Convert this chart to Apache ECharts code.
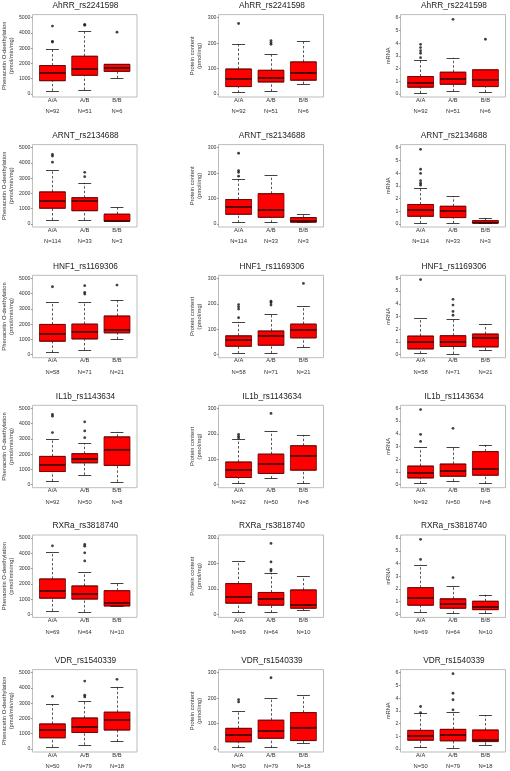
<!DOCTYPE html>
<html><head><meta charset="utf-8">
<script src="https://cdn.jsdelivr.net/npm/echarts@6/dist/echarts.min.js"></script>
<style>html,body{margin:0;padding:0;background:#fff}#c{width:510px;height:771px}</style>
</head><body><div id="c"></div>
<script>
const titles = ['AhRR_rs2241598','ARNT_rs2134688','HNF1_rs1169306','IL1b_rs1143634','RXRa_rs3818740','VDR_rs1540339'];
const genotypes = ['A/A','A/B','B/B'];
const nCounts = [[92,51,6],[114,33,3],[58,71,21],[92,50,8],[69,64,10],[50,79,18]];
const pheTicks = [0,1000,2000,3000,4000,5000];
const protTicks = [0,100,200,300];
const mrnaTicks = [0,1,2,3,4,5,6];

// [min, Q1, median, Q3, max] per genotype
const pheStats = [
  [[200,870,1380,1860,2930],[260,1220,1620,2470,4080],[1030,1480,1730,1940,1950]],
  [[260,1030,1510,2100,3520],[260,870,1500,1720,2690],[150,180,230,640,1080]],
  [[150,880,1390,1980,3410],[310,1030,1520,2000,3460],[1010,1430,1650,2530,3550]],
  [[220,860,1320,1850,2950],[640,1430,1670,2030,2690],[180,1260,2310,3130,3460]],
  [[220,1060,1550,2320,4070],[160,1000,1330,1860,2740],[530,550,770,1550,2010]],
  [[130,730,1260,1640,2920],[270,1080,1440,2030,3100],[490,1240,1900,2410,4070]]
];
const pheOutliers = [
  [[4450,3450,3400],[4560,4500],[4050]],
  [[4550,4450,4050],[3380,3100],[]],
  [[4450],[4520,4080,3970],[4560]],
  [[4600,4490,3410],[4120,3520,3080],[]],
  [[4490],[4580,4470,4030,3500],[]],
  [[3450],[4450,3520,3410],[4560]]
];
const protStats = [
  [[5,29,60,98,194],[10,47,63,93,155],[39,54,84,126,206]],
  [[5,38,68,96,177],[5,26,56,119,190],[5,7,12,25,39]],
  [[5,33,57,74,129],[5,37,74,93,159],[29,66,98,120,191]],
  [[5,28,58,89,177],[24,44,81,120,211],[5,57,114,153,194]],
  [[7,44,69,121,210],[7,36,61,86,161],[15,24,36,96,149]],
  [[5,28,54,81,147],[5,42,70,113,198],[23,33,85,143,211]]
];
const protOutliers = [
  [[277],[210,202,195],[]],
  [[278,210,203,188],[],[]],
  [[197,188,179,145],[210,204,195],[280]],
  [[198,190,183],[280],[]],
  [[],[279,206,177,170],[]],
  [[194,185],[280],[]]
];
const mrnaStats = [
  [[0.05,0.53,0.89,1.37,2.63],[0.2,0.76,1.18,1.71,2.84],[0.13,0.58,1.13,1.9,1.9]],
  [[0.05,0.6,1.08,1.53,2.84],[0.05,0.5,1.05,1.39,2.18],[0.05,0.08,0.13,0.26,0.42]],
  [[0.08,0.45,0.98,1.46,2.89],[0.05,0.64,1.01,1.49,2.81],[0.34,0.61,1.33,1.62,2.39]],
  [[0.08,0.53,0.93,1.46,2.92],[0.27,0.66,1.06,1.62,2.92],[0.08,0.74,1.22,2.6,3.1]],
  [[0.19,0.72,1.27,2.1,3.9],[0.05,0.48,0.8,1.22,2.18],[0.1,0.37,0.61,1.03,1.54]],
  [[0.1,0.69,1.03,1.46,2.79],[0.08,0.64,1.11,1.54,2.89],[0.32,0.58,0.72,1.49,2.63]]
];
const mrnaOutliers = [
  [[3.9,3.65,3.4,3.2,2.85],[5.87],[4.3]],
  [[5.87,4.3,3.97,3.4,3.2,3.05],[],[]],
  [[5.9],[4.35,3.9,3.4,3.1],[]],
  [[5.9,3.95,3.4],[4.43],[]],
  [[5.9,4.32],[2.89],[]],
  [[3.34,2.85],[5.92,4.38,3.87,3.08],[]]
];

const measures = [
  {stats: pheStats, out: pheOutliers, ticks: pheTicks, name: 'Phenacetin O-deethylation\n(pmol/min/mg)'},
  {stats: protStats, out: protOutliers, ticks: protTicks, name: 'Protein content\n(pmol/mg)'},
  {stats: mrnaStats, out: mrnaOutliers, ticks: mrnaTicks, name: 'mRNA'}
];

// layout (pixels)
const colLeft = [32, 218.5, 400.5], colW = 105;
const rowTop = [14.6, 144.6, 275.3, 405.3, 535, 669.6], rowH = 82.4;
const nameGaps = [17, 16, 8.5];
const FONT = 'Liberation Sans, Arial, sans-serif';
const XMIN = 0.38, XMAX = 3.62;
const boxPx = 0.8 * colW / (XMAX - XMIN);

const grids = [], xAxes = [], yAxes = [], series = [], graphics = [];
for (let r = 0; r < titles.length; r++) {
  for (let c = 0; c < 3; c++) {
    const idx = r * 3 + c;
    const m = measures[c];
    const stats = m.stats[r], outs = m.out[r];
    const top = m.ticks[m.ticks.length - 1];
    grids.push({left: colLeft[c], top: rowTop[r], width: colW, height: rowH,
      show: true, borderColor: '#b8bfb8', borderWidth: 1, backgroundColor: 'transparent'});
    const counts = nCounts[r];
    xAxes.push({gridIndex: idx, type: 'value', min: XMIN, max: XMAX,
      axisLine: {show: false}, axisTick: {show: false}, splitLine: {show: false},
      axisLabel: {customValues: [1, 2, 3], margin: 0, fontFamily: FONT,
        formatter: v => { const i = Math.round(v) - 1; return '{g|' + genotypes[i] + '}\n{n|N=' + counts[i] + '}'; },
        rich: {g: {fontSize: 5.8, lineHeight: 6, color: '#333', fontFamily: FONT},
               n: {fontSize: 5.8, lineHeight: 17, color: '#333', fontFamily: FONT}}}});
    yAxes.push({gridIndex: idx, type: 'value', min: -0.04 * top, max: 1.04 * top,
      axisLine: {show: false}, splitLine: {show: false},
      axisTick: {show: true, length: 1.5, customValues: m.ticks, lineStyle: {color: '#555', width: 0.6}},
      axisLabel: {customValues: m.ticks, formatter: v => String(v), fontSize: 5.2, color: '#333', margin: 2, fontFamily: FONT},
      name: m.name, nameLocation: 'middle', nameGap: nameGaps[c], nameRotate: 90,
      nameTextStyle: {fontSize: 5.8, lineHeight: 7, color: '#333', fontFamily: FONT}});
    const base = {xAxisIndex: idx, yAxisIndex: idx, silent: true, animation: false};
    series.push(Object.assign({type: 'boxplot', boxWidth: [boxPx, boxPx], z: 3,
      data: stats.map((s, i) => [i + 1, s[1], s[1], s[2], s[3], s[3]]),
      itemStyle: {color: '#ff0000', borderColor: '#6a0000', borderWidth: 0.8}}, base));
    series.push(Object.assign({type: 'lines', coordinateSystem: 'cartesian2d', z: 2,
      data: stats.flatMap((s, i) => [{coords: [[i + 1, s[0]], [i + 1, s[1]]]}, {coords: [[i + 1, s[3]], [i + 1, s[4]]]}]),
      lineStyle: {color: '#111', width: 0.7, type: [2.5, 2], opacity: 1}}, base));
    series.push(Object.assign({type: 'lines', coordinateSystem: 'cartesian2d', z: 2,
      data: stats.flatMap((s, i) => [{coords: [[i + 0.8, s[0]], [i + 1.2, s[0]]]}, {coords: [[i + 0.8, s[4]], [i + 1.2, s[4]]]}]),
      lineStyle: {color: '#111', width: 0.8, type: 'solid', opacity: 1}}, base));
    series.push(Object.assign({type: 'lines', coordinateSystem: 'cartesian2d', z: 4,
      data: stats.map((s, i) => ({coords: [[i + 0.6, s[2]], [i + 1.4, s[2]]]})),
      lineStyle: {color: '#3a0000', width: 1.6, type: 'solid', opacity: 1}}, base));
    series.push(Object.assign({type: 'scatter', z: 5, symbol: 'circle', symbolSize: 2.8,
      data: outs.flatMap((arr, i) => arr.map(v => [i + 1, v])),
      itemStyle: {color: '#111'}}, base));
    graphics.push({type: 'text', x: colLeft[c] + colW / 2 + 1, y: rowTop[r] - 9,
      style: {text: titles[r], fontSize: 8.3, fontFamily: FONT, fill: '#222',
        align: 'center', verticalAlign: 'middle', textAlign: 'center', textVerticalAlign: 'middle'}});
  }
}

const chart = echarts.init(document.getElementById('c'), null, {renderer: 'canvas', width: 510, height: 771});
chart.setOption({animation: false, backgroundColor: '#fff', grid: grids, xAxis: xAxes, yAxis: yAxes, series: series, graphic: graphics});
</script></body></html>
